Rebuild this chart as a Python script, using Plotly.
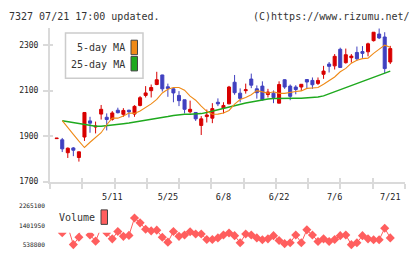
import plotly.graph_objects as go

# ---------------- data ----------------
dates = ["4/21", "4/22", "4/23", "4/24", "4/27", "4/28", "4/30", "5/1", "5/7", "5/8",
         "5/11", "5/12", "5/13", "5/14", "5/15", "5/18", "5/19", "5/20", "5/21", "5/22",
         "5/25", "5/26", "5/27", "5/28", "5/29", "6/1", "6/2", "6/3", "6/4", "6/5",
         "6/8", "6/9", "6/10", "6/11", "6/12", "6/15", "6/16", "6/17", "6/18", "6/19",
         "6/22", "6/23", "6/24", "6/25", "6/26", "6/29", "6/30", "7/1", "7/2", "7/3",
         "7/6", "7/7", "7/8", "7/9", "7/10", "7/13", "7/14", "7/15", "7/16", "7/17",
         "7/21"]

opens = [1889, 1884, 1827, 1848, 1806, 1896, 1967, 1940, 1997, 1983,
         1974, 2014, 1996, 2014, 1997, 2035, 2079, 2100, 2127, 2169,
         2117, 2108, 2079, 2060, 2007, 2004, 1947, 1986, 1979, 2049,
         2024, 2042, 2137, 2089, 2100, 2151, 2108, 2120, 2083, 2089,
         2045, 2148, 2120, 2116, 2116, 2149, 2145, 2132, 2172, 2217,
         2209, 2282, 2223, 2245, 2268, 2272, 2271, 2320, 2349, 2336,
         2226]
highs = [1891, 1892, 1850, 1852, 1832, 2005, 1985, 1964, 2037, 2000,
         2010, 2025, 2023, 2016, 2036, 2076, 2120, 2127, 2183, 2170,
         2131, 2110, 2098, 2060, 2056, 2005, 1988, 2017, 2045, 2066,
         2049, 2121, 2169, 2110, 2131, 2175, 2123, 2141, 2108, 2101,
         2141, 2150, 2127, 2124, 2129, 2150, 2158, 2158, 2209, 2226,
         2261, 2289, 2285, 2261, 2294, 2296, 2311, 2358, 2374, 2357,
         2297]
lows = [1889, 1830, 1804, 1812, 1788, 1879, 1915, 1912, 1973, 1925,
        1968, 2000, 1985, 1982, 1985, 2031, 2070, 2070, 2124, 2096,
        2073, 2049, 2032, 2000, 2000, 1967, 1905, 1960, 1957, 2032,
        2000, 2040, 2082, 2049, 2087, 2111, 2065, 2056, 2070, 2045,
        2045, 2108, 2058, 2084, 2099, 2110, 2108, 2125, 2152, 2180,
        2193, 2202, 2219, 2223, 2232, 2244, 2251, 2316, 2327, 2177,
        2217]
closes = [1891, 1844, 1847, 1838, 1831, 2004, 1957, 1944, 2018, 1973,
          2002, 2003, 2013, 2007, 2031, 2069, 2090, 2114, 2148, 2108,
          2110, 2090, 2056, 2018, 2018, 1976, 1976, 1993, 2021, 2042,
          2035, 2116, 2091, 2066, 2104, 2124, 2091, 2060, 2094, 2070,
          2127, 2116, 2075, 2105, 2128, 2138, 2126, 2145, 2186, 2207,
          2251, 2202, 2258, 2252, 2240, 2264, 2306, 2357, 2332, 2197,
          2285]

ma5 = [None, 1968, 1940, 1908, 1878, 1850, 1873, 1895, 1915, 1950,
       1979, 1979, 1988, 2002, 2000, 2011, 2025, 2042, 2062, 2090,
       2106, 2114, 2114, 2102, 2076, 2058, 2032, 2009, 1996, 1997,
       2002, 2013, 2041, 2061, 2070, 2082, 2100, 2095, 2089, 2095,
       2088, 2088, 2093, 2096, 2099, 2110, 2112, 2114, 2128, 2145,
       2160, 2183, 2198, 2221, 2234, 2241, 2243, 2264, 2284, 2300,
       2291]
ma25 = [None, 1968, 1964, 1960, 1955, 1950, 1947, 1944, 1944, 1946,
        1948, 1953, 1955, 1958, 1962, 1966, 1969, 1972, 1975, 1980,
        1986, 1991, 1995, 1996, 1996, 1997, 1999, 2004, 2010, 2017,
        2022, 2030, 2037, 2042, 2046, 2050, 2055, 2060, 2063, 2066,
        2067, 2067, 2067, 2067, 2067, 2068, 2069, 2072, 2077, 2086,
        2095, 2104, 2113, 2122, 2131, 2141, 2151, 2161, 2170, 2179,
        2186]

volumes = [1400000, 1070000, 1350000, 540000, 867000, 2265100, 970000, 694000, 1300000, 1070000,
           798000, 1126000, 910000, 953000, 1730000, 1514000, 1229000, 1156000, 1186000, 867000,
           651000, 1126000, 910000, 970000, 1113000, 1014000, 1014000, 768000, 768000, 841000,
           970000, 1057000, 940000, 625000, 1014000, 970000, 841000, 755000, 798000, 940000,
           724000, 582000, 625000, 970000, 625000, 1199000, 970000, 681000, 798000, 681000,
           768000, 940000, 970000, 538800, 625000, 940000, 798000, 755000, 755000, 1273000,
           841000]

price_ticks = [1700, 1900, 2100, 2300]
vol_ticks = [538800, 1401950, 2265100]
date_labels = ["5/11", "5/25", "6/8", "6/22", "7/6", "7/21"]

# ---------------- styling ----------------
W, H = 420, 259
MONO = "DejaVu Sans Mono"
RED = "#d80000"
BLUE = "#4040c0"
ORANGE = "#ef8a17"
GREEN = "#1ea91e"
VOLC = "#ff5e5e"
AXC = "#dadada"
TXT = "#333333"


def px(x):
    return x / W


def py(y):
    return 1 - y / H


xpos = list(range(len(dates)))
X_RANGE = [-1.2, 62.65]
Y_RANGE = [1700, 2375]
grid_ticks = [X_RANGE[0] + k * (X_RANGE[1] - X_RANGE[0]) / 11 for k in range(12)]
label_pos = [xpos[dates.index(d)] for d in date_labels]

fig = go.Figure()

fig.add_trace(go.Candlestick(
    x=xpos, open=opens, high=highs, low=lows, close=closes,
    increasing=dict(line=dict(color=RED, width=1), fillcolor=RED),
    decreasing=dict(line=dict(color=BLUE, width=1), fillcolor=BLUE),
    whiskerwidth=0, showlegend=False, hoverinfo="skip",
    xaxis="x", yaxis="y"))

fig.add_trace(go.Scatter(x=xpos, y=ma25, mode="lines", line=dict(color=GREEN, width=1.5),
                         showlegend=False, xaxis="x", yaxis="y", hoverinfo="skip"))
fig.add_trace(go.Scatter(x=xpos, y=ma5, mode="lines", line=dict(color=ORANGE, width=1.1),
                         showlegend=False, xaxis="x", yaxis="y", hoverinfo="skip"))

# invisible carriers so the overlay tick axes get drawn
fig.add_trace(go.Scatter(x=xpos, y=closes, mode="lines", line=dict(width=0), opacity=0,
                         showlegend=False, xaxis="x3", yaxis="y", hoverinfo="skip"))
fig.add_trace(go.Scatter(x=xpos, y=closes, mode="lines", line=dict(width=0), opacity=0,
                         showlegend=False, xaxis="x4", yaxis="y3", hoverinfo="skip"))

fig.add_trace(go.Scatter(x=xpos, y=volumes, mode="lines+markers",
                         line=dict(color=VOLC, width=1),
                         marker=dict(symbol="diamond", size=7, color=VOLC),
                         cliponaxis=False, showlegend=False,
                         xaxis="x2", yaxis="y2", hoverinfo="skip"))

dom_x = [px(50), px(405)]
fig.update_layout(
    width=W, height=H,
    margin=dict(l=0, r=0, t=0, b=0),
    paper_bgcolor="white", plot_bgcolor="white",
    showlegend=False,
    boxgap=0.22,
    xaxis=dict(domain=dom_x, range=X_RANGE, anchor="y",
               showline=True, linecolor=AXC, linewidth=2,
               ticks="outside", ticklen=5, tickwidth=1.5, tickcolor=AXC,
               tickmode="array", tickvals=grid_ticks, showticklabels=False,
               showgrid=False, zeroline=False, rangeslider=dict(visible=False)),
    xaxis4=dict(overlaying="x", anchor="y3", range=X_RANGE,
                ticks="inside", ticklen=4, tickwidth=1.5, tickcolor=AXC,
                tickmode="array", tickvals=grid_ticks, showticklabels=False,
                showline=False, showgrid=False, zeroline=False),
    xaxis3=dict(overlaying="x", anchor="y", range=X_RANGE, side="bottom",
                ticks="", tickmode="array", tickvals=label_pos, ticktext=date_labels,
                tickfont=dict(family=MONO, size=8.5, color="#222222"),
                ticklabelstandoff=9,
                showline=False, showgrid=False, zeroline=False),
    yaxis=dict(domain=[py(184), py(25)], range=Y_RANGE, anchor="x",
               showline=True, linecolor=AXC, linewidth=2,
               ticks="outside", ticklen=5, tickwidth=1.5, tickcolor=AXC,
               tickmode="array", tickvals=price_ticks,
               tickfont=dict(family=MONO, size=8, color="#222222"),
               ticklabelstandoff=3,
               showgrid=False, zeroline=False),
    yaxis3=dict(overlaying="y", anchor="x4", range=Y_RANGE,
                ticks="inside", ticklen=3, tickwidth=1.5, tickcolor=AXC,
                tickmode="array", tickvals=price_ticks, showticklabels=False,
                showline=False, showgrid=False, zeroline=False),
    xaxis2=dict(domain=dom_x, range=X_RANGE, anchor="y2", visible=False),
    yaxis2=dict(domain=[py(249.3), py(209.3)], range=[vol_ticks[0], vol_ticks[-1]],
                anchor="x2", tickmode="array", tickvals=vol_ticks,
                ticktext=[str(v) for v in vol_ticks],
                tickfont=dict(family=MONO, size=6.2, color="#222222"),
                ticks="", ticklabelstandoff=4,
                showline=False, showgrid=False, zeroline=False),
)

shapes = [
    # price legend box
    dict(type="rect", xref="paper", yref="paper", x0=px(65.5), x1=px(143), y0=py(77), y1=py(30),
         line=dict(color="#cccccc", width=1.5), fillcolor="white", layer="above"),
    dict(type="rect", xref="paper", yref="paper", x0=px(131), x1=px(137.5), y0=py(52.5), y1=py(37.5),
         line=dict(color="#444444", width=1), fillcolor=ORANGE, layer="above"),
    dict(type="rect", xref="paper", yref="paper", x0=px(131), x1=px(137.5), y0=py(69.3), y1=py(54.3),
         line=dict(color="#444444", width=1), fillcolor=GREEN, layer="above"),
    # volume legend box (opaque, no border)
    dict(type="rect", xref="paper", yref="paper", x0=px(50), x1=px(112), y0=py(237), y1=py(203),
         line=dict(width=0), fillcolor="white", layer="above"),
    dict(type="rect", xref="paper", yref="paper", x0=px(101), x1=px(107.5), y0=py(228.3), y1=py(213.3),
         line=dict(color="#444444", width=1), fillcolor=VOLC, layer="above"),
]

annotations = [
    dict(text="7327 07/21 17:00 updated.", x=px(8), y=py(12.7), xanchor="left", yanchor="middle"),
    dict(text="(C)https://www.rizumu.net/", x=px(410.5), y=py(12.7), xanchor="right", yanchor="middle"),
    dict(text="5-day MA", x=px(126), y=py(45.5), xanchor="right", yanchor="middle"),
    dict(text="25-day MA", x=px(126), y=py(62.5), xanchor="right", yanchor="middle"),
    dict(text="Volume", x=px(57.5), y=py(221.5), xanchor="left", yanchor="middle"),
]
for a in annotations:
    a.update(xref="paper", yref="paper", showarrow=False, borderpad=0,
             font=dict(family=MONO, size=10, color=TXT))

fig.update_layout(shapes=shapes, annotations=annotations)

fig.write_html("out.html")
